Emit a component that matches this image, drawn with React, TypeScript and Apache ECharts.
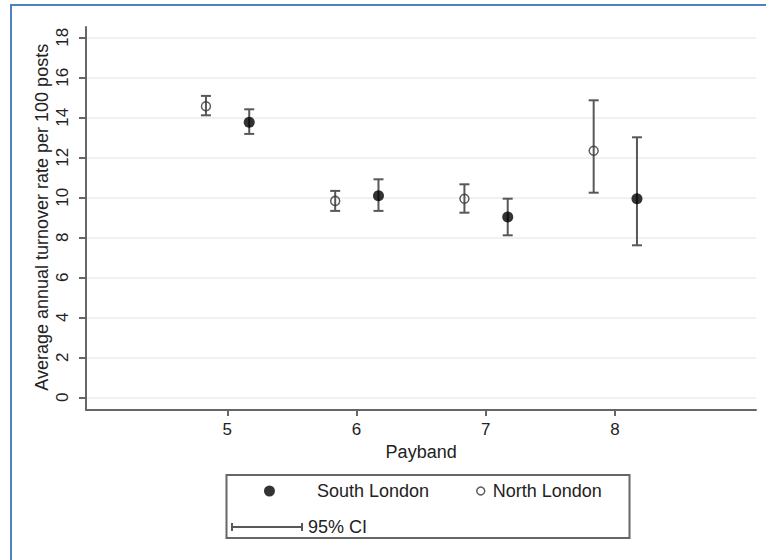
import React, { useEffect, useRef } from "react";
import * as echarts from "echarts";

// ---- Data ----
const paybands = [5, 6, 7, 8];
const northX = [4.835, 5.835, 6.835, 7.835];
const northMean = [14.55, 9.82, 9.93, 12.33];
const northLow = [14.1, 9.32, 9.23, 10.23];
const northHigh = [15.07, 10.32, 10.65, 14.85];

const southX = [5.17, 6.17, 7.17, 8.17];
const southMean = [13.75, 10.08, 9.02, 9.93];
const southLow = [13.17, 9.32, 8.1, 7.6];
const southHigh = [14.4, 10.9, 9.93, 13.0];

const yTicks = { min: 0, max: 18, step: 2 };
const xRange = { min: 3.907, max: 9.091 };

const FONT = "'Liberation Sans', Arial, Helvetica, sans-serif";
const AXIS = "#666666";
const TEXT = "#222222";
const BAR = "#585858";

// legend icon: filled dot centred in an 85x11 key area (corner points set the box)
const SOUTH_ICON =
  "path://M0,0 L0,0.01 M85,11 L85,11.01 M37,5.5 A5.5,5.5 0 1,1 48,5.5 A5.5,5.5 0 1,1 37,5.5 Z";
const CI_ICON =
  "path://M0,3 L72,3 L72,5 L0,5 Z M0,0 L2,0 L2,8 L0,8 Z M70,0 L72,0 L72,8 L70,8 Z";

export default function App() {
  const ref = useRef<HTMLDivElement>(null);

  useEffect(() => {
    if (!ref.current) return;
    const chart = echarts.init(ref.current, undefined, { renderer: "svg" });

    const ciData = [
      ...northX.map((x, i) => [x, northLow[i], northHigh[i]]),
      ...southX.map((x, i) => [x, southLow[i], southHigh[i]]),
    ];

    const legendText = { fontSize: 18, color: TEXT, fontFamily: FONT };

    const option: any = {
      animation: false,
      backgroundColor: "#ffffff",
      textStyle: { fontFamily: FONT },
      grid: [
        { left: 86, right: 10, top: 27, bottom: 150 },
        { left: 86, right: 10, top: 37.3, height: 360 },
        { left: 227.3, width: 387.7, top: 27, bottom: 150 },
      ],
      xAxis: [
        {
          gridIndex: 0, type: "value", min: 0, max: 1,
          axisLine: { show: true, lineStyle: { color: AXIS, width: 2 } },
          axisTick: { show: false }, axisLabel: { show: false }, splitLine: { show: false },
        },
        {
          gridIndex: 1, type: "value", min: xRange.min, max: xRange.max, show: false,
        },
        {
          gridIndex: 2, type: "value", min: paybands[0], max: paybands[paybands.length - 1], interval: 1,
          axisLine: { show: false },
          axisTick: { show: true, length: 6, lineStyle: { color: AXIS, width: 2 } },
          axisLabel: { fontSize: 17, color: TEXT, margin: 11, fontFamily: FONT },
          splitLine: { show: false },
          name: "Payband", nameLocation: "middle", nameGap: 33,
          nameTextStyle: { fontSize: 18, color: TEXT, fontFamily: FONT },
        },
      ],
      yAxis: [
        {
          gridIndex: 0, type: "value", min: 0, max: 1,
          axisLine: { show: true, lineStyle: { color: AXIS, width: 2 } },
          axisTick: { show: false }, axisLabel: { show: false }, splitLine: { show: false },
        },
        {
          gridIndex: 1, type: "value", min: yTicks.min, max: yTicks.max, interval: yTicks.step,
          axisLine: { show: false },
          axisTick: { show: true, length: 7, lineStyle: { color: AXIS, width: 2 } },
          axisLabel: { fontSize: 17, color: TEXT, rotate: 90, margin: 15, fontFamily: FONT },
          splitLine: { show: true, lineStyle: { color: "#eef2f2", width: 2 } },
          name: "Average annual turnover rate per 100 posts",
          nameLocation: "middle", nameGap: 35, nameMoveOverlap: false,
          nameTextStyle: { fontSize: 18, color: TEXT, fontFamily: FONT },
        },
        { gridIndex: 2, type: "value", show: false },
      ],
      legend: [
        {
          left: 227, top: 482, padding: 0, selectedMode: false,
          itemWidth: 85, itemHeight: 11,
          textStyle: legendText,
          data: [{ name: "South London", icon: SOUTH_ICON, itemStyle: { color: "#000000", borderWidth: 0 } }],
        },
        {
          left: 476, top: 482, padding: 0, selectedMode: false,
          itemWidth: 14, itemHeight: 8,
          textStyle: legendText,
          data: [{
            name: "North London", icon: "circle",
            itemStyle: { color: "rgba(0,0,0,0)", borderColor: "#333333", borderWidth: 1.5 },
          }],
        },
        {
          left: 231, top: 518, padding: 0, selectedMode: false,
          itemWidth: 72, itemHeight: 8,
          textStyle: legendText,
          data: [{ name: "95% CI", icon: CI_ICON, itemStyle: { color: BAR, borderWidth: 0 } }],
        },
      ],
      graphic: [
        {
          type: "rect", left: 224, top: 472.5, z: 10,
          shape: { width: 403, height: 63 },
          style: { fill: "none", stroke: AXIS, lineWidth: 2 },
        },
      ],
      series: [
        {
          name: "95% CI", type: "custom", xAxisIndex: 1, yAxisIndex: 1, z: 2,
          itemStyle: { color: BAR },
          encode: { x: 0, y: [1, 2] },
          data: ciData,
          renderItem: (params: any, api: any) => {
            const x = api.value(0);
            const lo = api.coord([x, api.value(1)]);
            const hi = api.coord([x, api.value(2)]);
            const hw = 5;
            const style = { stroke: BAR, lineWidth: 2, fill: null };
            return {
              type: "group",
              children: [
                { type: "line", shape: { x1: lo[0], y1: lo[1], x2: hi[0], y2: hi[1] }, style },
                { type: "line", shape: { x1: lo[0] - hw, y1: lo[1], x2: lo[0] + hw, y2: lo[1] }, style },
                { type: "line", shape: { x1: hi[0] - hw, y1: hi[1], x2: hi[0] + hw, y2: hi[1] }, style },
              ],
            };
          },
        },
        {
          name: "South London", type: "scatter", xAxisIndex: 1, yAxisIndex: 1, z: 3,
          symbol: "circle", symbolSize: 11,
          itemStyle: { color: "#000000" },
          data: southX.map((x, i) => [x, southMean[i]]),
        },
        {
          name: "North London", type: "scatter", xAxisIndex: 1, yAxisIndex: 1, z: 3,
          symbol: "circle", symbolSize: 9,
          itemStyle: { color: "rgba(0,0,0,0)", borderColor: "#333333", borderWidth: 1.5 },
          data: northX.map((x, i) => [x, northMean[i]]),
        },
      ],
    };

    chart.setOption(option);
    return () => chart.dispose();
  }, []);

  return (
    <div style={{ position: "absolute", left: 0, top: 0, width: 766, height: 560, background: "#fff" }}>
      <div ref={ref} style={{ position: "absolute", left: 0, top: 0, width: 766, height: 560 }} />
      <div
        style={{
          position: "absolute", left: 10, top: 4, width: 756, height: 556,
          borderTop: "2px solid #4f81bd", borderLeft: "2px solid #4f81bd",
          boxSizing: "border-box", pointerEvents: "none",
        }}
      />
    </div>
  );
}
